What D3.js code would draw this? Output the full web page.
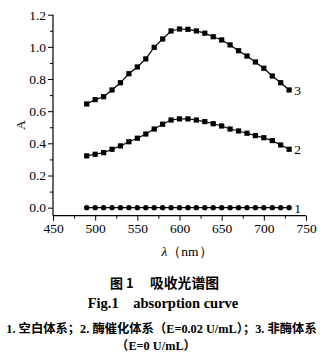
<!DOCTYPE html>
<html><head><meta charset="utf-8">
<script src="https://cdn.jsdelivr.net/npm/d3@7"></script>
<style>body{margin:0;background:#fff}svg{display:block}</style>
</head><body>
<script>
const wavelengths = [490,500,510,520,530,540,550,560,570,580,590,600,610,620,630,640,650,660,670,680,690,700,710,720,730];
const series1 = [0,0,0,0,0,0,0,0,0,0,0,0,0,0,0,0,0,0,0,0,0,0,0,0,0];
const series2 = [0.322,0.332,0.342,0.363,0.384,0.41,0.432,0.458,0.489,0.519,0.545,0.552,0.552,0.545,0.535,0.522,0.508,0.489,0.477,0.463,0.448,0.435,0.417,0.39,0.363];
const series3 = [0.645,0.672,0.69,0.732,0.777,0.833,0.875,0.925,0.997,1.049,1.099,1.111,1.109,1.099,1.085,1.063,1.043,1.012,0.976,0.943,0.906,0.867,0.819,0.777,0.732];
const seriesLabels = ["1","2","3"];
const xTicks = [450,500,550,600,650,700,750];
const yTicks = [0.0,0.2,0.4,0.6,0.8,1.0,1.2];

const W=327,H=358;
const svg=d3.select("body").append("svg").attr("width",W).attr("height",H);
const x=d3.scaleLinear().domain([450,750]).range([53,306]);
const y=d3.scaleLinear().domain([-0.05,1.2]).range([215.7,14.7]);
const serif="'Liberation Serif','Times New Roman',serif";

const gx=svg.append("g").attr("transform","translate(0,215.7)");
gx.call(d3.axisBottom(x).tickValues(d3.range(450,751,25)).tickSize(3).tickFormat(()=>""));
gx.selectAll(".tick").filter(d=>xTicks.includes(d)).select("line").attr("y2",5);
gx.selectAll(".tick").filter(d=>xTicks.includes(d)).append("text").attr("class","lbl")
  .attr("y",17).attr("fill","#000").text(d=>d);
const gy=svg.append("g").attr("transform","translate(53,0)");
gy.call(d3.axisLeft(y).tickValues(d3.range(0,1.21,0.1).map(v=>+v.toFixed(1))).tickSize(3).tickFormat(()=>""));
gy.selectAll(".tick").filter(d=>yTicks.some(t=>Math.abs(t-d)<1e-6)).select("line").attr("x2",-5);
gy.selectAll(".tick").filter(d=>yTicks.some(t=>Math.abs(t-d)<1e-6)).append("text").attr("class","lbl")
  .attr("x",-7).attr("dy","0.32em").attr("text-anchor","end").attr("fill","#000").text(d=>d.toFixed(1));
svg.selectAll(".domain").attr("stroke","#000").attr("stroke-width",1.2);
svg.selectAll(".tick line").attr("stroke","#000");
svg.selectAll("text.lbl").style("font-family",serif).style("font-size","13.5px");
gx.select(".domain").attr("d","M53,0H306");
gy.select(".domain").attr("d","M0,14.7V215.7");

const line=d3.line().x((d,i)=>x(wavelengths[i])).y(d=>y(d));
[series1,series2,series3].forEach((s,k)=>{
  svg.append("path").datum(s).attr("d",line).attr("fill","none").attr("stroke","#000").attr("stroke-width",1.2);
  if(k===0){
    svg.append("g").selectAll("circle").data(s).join("circle")
      .attr("cx",(d,i)=>x(wavelengths[i])).attr("cy",d=>y(d)).attr("r",2.7).attr("fill","#000");
  } else {
    svg.append("g").selectAll("rect").data(s).join("rect")
      .attr("x",(d,i)=>x(wavelengths[i])-2.6).attr("y",d=>y(d)-2.6).attr("width",5.2).attr("height",5.2).attr("fill","#000");
  }
  svg.append("text").attr("x",x(wavelengths[wavelengths.length-1])+5).attr("y",y(s[s.length-1])+5)
    .style("font-family",serif).style("font-size","13.5px").text(seriesLabels[k]);
});

svg.append("text").attr("transform","translate(25,125) rotate(-90)").attr("text-anchor","middle")
  .style("font-family",serif).style("font-size","13.5px").text("A");
svg.append("text").attr("x",187).attr("y",256).attr("text-anchor","middle")
  .style("font-family",serif).style("font-size","13.5px").html("<tspan font-style='italic'>λ</tspan>（nm）");

const cjk="'Noto Sans CJK SC',sans-serif";
svg.append("text").attr("x",110).attr("y",288)
  .style("font-family",cjk).style("font-weight","bold").style("font-size","13px").text("图 1");
svg.append("text").attr("x",150).attr("y",288)
  .style("font-family",cjk).style("font-weight","bold").style("font-size","13.8px").text("吸收光谱图");
svg.append("text").attr("x",163).attr("y",307.5).attr("text-anchor","middle")
  .style("font-family",serif).style("font-weight","bold").style("font-size","14.5px").attr("xml:space","preserve").text("Fig.1    absorption curve");
const sf="'Liberation Serif',serif";
svg.append("text").attr("x",161.5).attr("y",333).attr("text-anchor","middle")
  .style("font-family",cjk).style("font-weight","bold").style("font-size","12.3px")
  .html(`<tspan style="font-family:${sf}">1. </tspan>空白体系；<tspan style="font-family:${sf}">2. </tspan>酶催化体系（<tspan style="font-family:${sf}">E=0.02 U/mL</tspan>）；<tspan style="font-family:${sf}">3. </tspan>非酶体系`);
svg.append("text").attr("x",156).attr("y",350).attr("text-anchor","middle")
  .style("font-family",cjk).style("font-weight","bold").style("font-size","12.3px")
  .html(`（<tspan style="font-family:${sf}">E=0 U/mL</tspan>）`);
</script>
</body></html>
